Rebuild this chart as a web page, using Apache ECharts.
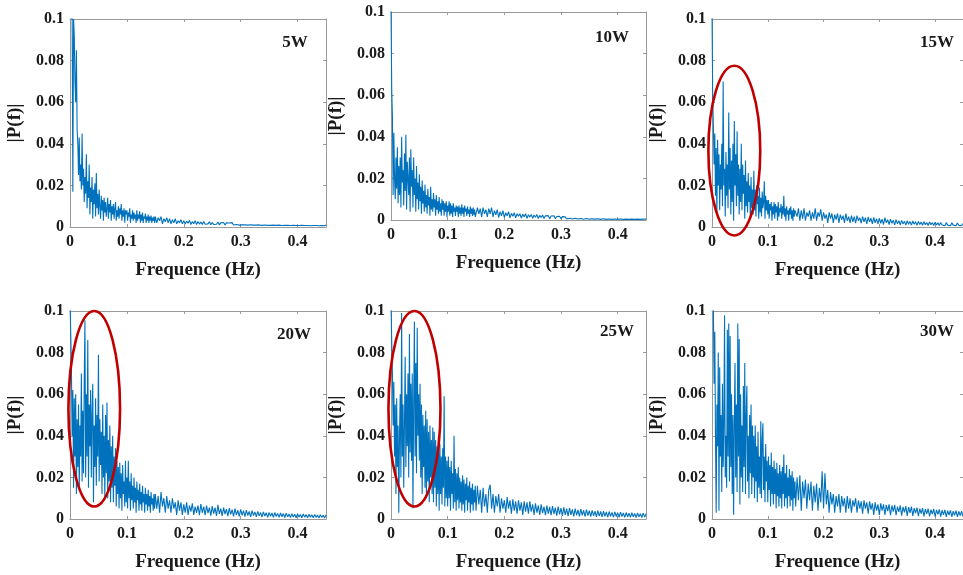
<!DOCTYPE html>
<html><head><meta charset="utf-8">
<script src="https://cdn.jsdelivr.net/npm/echarts@6/dist/echarts.min.js"></script>
<style>html,body{margin:0;padding:0;background:#fff}#c{width:963px;height:575px}</style>
</head><body><div id="c"></div>
<script>
// ---- data ----
const panelLabels = ['5W', '10W', '15W', '20W', '25W', '30W'];
const xAxisName = 'Frequence (Hz)';
const yAxisName = '|P(f)|';
const xMin = 0, xMax = 0.45, xStep = 0.1;
const yMin = 0, yMax = 0.1, yStep = 0.02;
// low band: 0 .. 0.14875 Hz, bins of 0.00125 Hz ; high band: 0.15 .. 0.45 Hz, bins of 0.0025 Hz
const lowStart = 0, lowStep = 0.00125;
const highStart = 0.15, highStep = 0.0025;

const low5W = [
0.13,0.115,0.1,0.104,0.017,0.1,0.092,0.07,0.06,0.085,
0.047,0.04,0.025,0.043,0.022,0.03,0.018,0.045,0.02,0.028,
0.012,0.024,0.016,0.035,0.009,0.022,0.014,0.03,0.006,0.019,
0.012,0.024,0.004,0.018,0.011,0.021,0.005,0.026,0.009,0.016,
0.006,0.018,0.01,0.004,0.015,0.008,0.013,0.003,0.014,0.007,
0.012,0.005,0.009,0.014,0.004,0.011,0.007,0.013,0.003,0.01,
0.006,0.011,0.004,0.009,0.012,0.003,0.008,0.005,0.01,0.004,
0.009,0.006,0.011,0.003,0.008,0.005,0.009,0.002,0.008,0.006,
0.008,0.003,0.007,0.005,0.009,0.002,0.006,0.004,0.008,0.003,
0.007,0.004,0.006,0.002,0.008,0.003,0.006,0.004,0.0075,0.002,
0.006,0.003,0.007,0.002,0.005,0.004,0.0065,0.002,0.005,0.003,
0.006,0.002,0.005,0.003,0.0055,0.002,0.0045,0.003,0.005,0.002];
const high5W = [
0.005,0.002,0.0045,0.003,0.005,0.0015,0.004,0.0025,0.0045,0.002,
0.004,0.0015,0.0035,0.002,0.004,0.0015,0.003,0.002,0.0035,0.0015,
0.003,0.0015,0.0028,0.0018,0.0032,0.0012,0.0026,0.0016,0.003,0.0012,
0.0026,0.0014,0.0024,0.0012,0.0027,0.0013,0.0022,0.0015,0.0025,0.0011,
0.0022,0.0012,0.0021,0.0013,0.0024,0.001,0.002,0.0013,0.0022,0.001,
0.002,0.0011,0.0019,0.0012,0.0021,0.001,0.0018,0.0012,0.002,0.0009,
0.0018,0.001,0.0017,0.0011,0.0019,0.0009,0.0016,0.0011,0.0018,0.0009,
0.0016,0.0009,0.0015,0.001,0.0017,0.0008,0.0015,0.001,0.0016,0.0008,
0.0015,0.0008,0.0014,0.0009,0.0015,0.0008,0.0013,0.0009,0.0014,0.0007,
0.0013,0.0008,0.0012,0.0008,0.0014,0.0007,0.0012,0.0008,0.0013,0.0007,
0.0012,0.0007,0.0011,0.0008,0.0012,0.0007,0.0011,0.0007,0.0012,0.0006,
0.0011,0.0007,0.001,0.0007,0.0011,0.0006,0.001,0.0007,0.0011,0.0006,
0.001];

const low10W = [
0.105,0.063,0.05,0.012,0.042,0.02,0.01,0.03,0.015,0.035,
0.008,0.026,0.012,0.03,0.006,0.04,0.018,0.024,0.007,0.032,
0.014,0.041,0.005,0.028,0.02,0.012,0.03,0.004,0.034,0.016,
0.024,0.006,0.03,0.012,0.02,0.004,0.026,0.01,0.018,0.005,
0.022,0.009,0.016,0.003,0.019,0.008,0.014,0.004,0.017,0.006,
0.012,0.003,0.015,0.007,0.011,0.002,0.016,0.005,0.01,0.004,
0.013,0.006,0.01,0.002,0.012,0.005,0.009,0.003,0.011,0.004,
0.008,0.002,0.01,0.005,0.009,0.002,0.008,0.004,0.009,0.0015,
0.007,0.004,0.009,0.002,0.008,0.003,0.007,0.0015,0.008,0.004,
0.006,0.002,0.007,0.004,0.0065,0.0015,0.007,0.003,0.006,0.002,
0.0075,0.003,0.006,0.0015,0.007,0.004,0.0055,0.002,0.0065,0.003,
0.005,0.0015,0.0065,0.003,0.0055,0.002,0.006,0.0025,0.005,0.0015];
const high10W = [
0.002,0.006,0.003,0.0055,0.0015,0.006,0.003,0.005,0.0015,0.0055,
0.003,0.006,0.0015,0.0045,0.0025,0.005,0.0012,0.004,0.002,0.0045,
0.0012,0.0035,0.002,0.004,0.001,0.0032,0.0018,0.0035,0.001,0.003,
0.0018,0.003,0.0009,0.0028,0.0015,0.003,0.0008,0.0025,0.0014,0.0027,
0.0008,0.0024,0.0013,0.0026,0.0007,0.0022,0.0012,0.0024,0.0007,0.002,
0.0012,0.0021,0.0006,0.0019,0.0011,0.002,0.0006,0.0017,0.001,0.0018,
0.0006,0.0016,0.0009,0.0015,0.0005,0.0014,0.0008,0.0015,0.0005,0.0013,
0.0008,0.0013,0.0005,0.0012,0.0007,0.0012,0.0004,0.0011,0.0007,0.0011,
0.0004,0.001,0.0006,0.001,0.0004,0.0009,0.0006,0.001,0.0003,0.0009,
0.0006,0.0009,0.0003,0.0008,0.0005,0.0009,0.0003,0.0008,0.0005,0.0008,
0.0003,0.0007,0.0005,0.0008,0.0003,0.0007,0.0004,0.0007,0.0003,0.0006,
0.0004,0.0007,0.0003,0.0006,0.0004,0.0006,0.0003,0.0006,0.0004,0.0005,
0.0004];

const low15W = [
0.105,0.062,0.048,0.03,0.045,0.015,0.038,0.006,0.042,0.02,
0.035,0.008,0.03,0.018,0.04,0.01,0.07,0.02,0.028,0.005,
0.036,0.015,0.03,0.009,0.055,0.018,0.038,0.006,0.032,0.012,
0.04,0.003,0.051,0.02,0.035,0.01,0.046,0.015,0.03,0.006,
0.028,0.012,0.04,0.008,0.03,0.016,0.025,0.004,0.032,0.01,
0.022,0.007,0.026,0.012,0.02,0.004,0.024,0.009,0.018,0.006,
0.027,0.008,0.018,0.005,0.02,0.011,0.015,0.004,0.019,0.007,
0.014,0.005,0.017,0.009,0.012,0.022,0.004,0.015,0.008,0.013,
0.006,0.013,0.004,0.011,0.008,0.012,0.003,0.01,0.006,0.012,
0.004,0.011,0.007,0.01,0.003,0.012,0.005,0.009,0.007,0.011,
0.004,0.01,0.006,0.015,0.005,0.009,0.003,0.01,0.006,0.008,
0.003,0.009,0.006,0.01,0.004,0.008,0.003,0.009,0.005,0.008];
const high15W = [
0.008,0.005,0.009,0.003,0.008,0.004,0.009,0.003,0.007,0.005,
0.008,0.003,0.007,0.004,0.009,0.003,0.007,0.005,0.0085,0.003,
0.007,0.004,0.006,0.002,0.007,0.004,0.0065,0.002,0.006,0.0035,
0.0065,0.002,0.006,0.0035,0.0055,0.002,0.0065,0.003,0.005,0.002,
0.0055,0.0025,0.005,0.0018,0.0055,0.003,0.0045,0.0018,0.005,0.0025,
0.0045,0.0015,0.0048,0.0025,0.0042,0.0015,0.0046,0.002,0.004,0.0015,
0.0042,0.0018,0.0038,0.0012,0.0045,0.002,0.0035,0.0012,0.0038,0.0018,
0.0032,0.001,0.0035,0.0015,0.003,0.001,0.0032,0.0015,0.0028,0.0009,
0.003,0.0013,0.0027,0.0009,0.0029,0.0013,0.0025,0.0008,0.0027,0.0012,
0.0024,0.0008,0.0026,0.0011,0.0022,0.0007,0.0024,0.0011,0.0021,0.0007,
0.0023,0.001,0.002,0.0007,0.0022,0.001,0.0019,0.0006,0.0021,0.0009,
0.0018,0.0006,0.002,0.0009,0.0017,0.0006,0.0019,0.0008,0.0016,0.0006,
0.0017];

const low20W = [
0.105,0.09,0.072,0.04,0.062,0.015,0.058,0.03,0.06,0.012,
0.048,0.025,0.055,0.014,0.045,0.03,0.07,0.018,0.052,0.022,
0.065,0.0955,0.02,0.06,0.03,0.086,0.015,0.055,0.035,0.062,
0.02,0.05,0.065,0.008,0.045,0.025,0.058,0.016,0.05,0.03,
0.079,0.018,0.048,0.026,0.042,0.012,0.055,0.02,0.04,0.01,
0.05,0.022,0.056,0.01,0.038,0.018,0.045,0.008,0.035,0.015,
0.04,0.008,0.03,0.016,0.034,0.006,0.028,0.012,0.025,0.005,
0.027,0.01,0.022,0.004,0.026,0.012,0.018,0.006,0.028,0.008,
0.02,0.005,0.028,0.01,0.018,0.004,0.022,0.009,0.016,0.005,
0.02,0.008,0.015,0.003,0.018,0.009,0.014,0.004,0.017,0.007,
0.013,0.004,0.016,0.008,0.012,0.003,0.015,0.007,0.012,0.004,
0.014,0.006,0.011,0.003,0.013,0.007,0.01,0.004,0.012,0.005];
const high20W = [
0.012,0.005,0.011,0.003,0.013,0.006,0.01,0.003,0.011,0.005,
0.009,0.003,0.01,0.005,0.008,0.002,0.009,0.004,0.008,0.002,
0.007,0.003,0.008,0.002,0.0065,0.0035,0.0075,0.002,0.006,0.003,
0.0065,0.0018,0.0072,0.003,0.006,0.0018,0.0065,0.0028,0.0055,0.0016,
0.0062,0.0026,0.0055,0.0015,0.0068,0.0025,0.005,0.0015,0.0055,0.0024,
0.0048,0.0014,0.0052,0.0022,0.0045,0.0013,0.005,0.002,0.0042,0.0012,
0.0046,0.0018,0.004,0.0011,0.0043,0.0017,0.0036,0.001,0.004,0.0016,
0.0034,0.001,0.0037,0.0015,0.0032,0.0009,0.0034,0.0014,0.003,0.0008,
0.0032,0.0013,0.0029,0.0008,0.0031,0.0012,0.0027,0.0008,0.0029,0.0011,
0.0026,0.0007,0.0028,0.001,0.0024,0.0007,0.0026,0.001,0.0023,0.0006,
0.0025,0.0009,0.0022,0.0006,0.0024,0.0009,0.0021,0.0006,0.0023,0.0008,
0.002,0.0006,0.0022,0.0008,0.0019,0.0005,0.0021,0.0008,0.0018,0.0005,
0.0019];

const low25W = [
0.105,0.085,0.07,0.045,0.066,0.03,0.055,0.012,0.058,0.025,
0.045,0.003,0.04,0.06,0.02,0.099,0.03,0.055,0.015,0.045,
0.078,0.025,0.06,0.035,0.07,0.02,0.089,0.032,0.065,0.028,
0.07,0.005,0.055,0.095,0.03,0.075,0.022,0.092,0.04,0.06,
0.028,0.065,0.02,0.055,0.012,0.05,0.025,0.045,0.015,0.052,
0.01,0.048,0.018,0.042,0.008,0.045,0.02,0.038,0.012,0.044,
0.008,0.042,0.015,0.038,0.006,0.035,0.012,0.04,0.004,0.036,
0.012,0.03,0.007,0.034,0.015,0.059,0.006,0.03,0.01,0.028,
0.006,0.03,0.01,0.025,0.004,0.028,0.012,0.022,0.005,0.04,
0.008,0.024,0.004,0.022,0.009,0.025,0.005,0.02,0.008,0.018,
0.004,0.021,0.007,0.019,0.003,0.017,0.009,0.02,0.004,0.016,
0.008,0.018,0.003,0.015,0.007,0.017,0.004,0.014,0.008,0.016];
const high25W = [
0.004,0.016,0.007,0.014,0.003,0.015,0.006,0.012,0.003,0.014,
0.0165,0.005,0.012,0.003,0.011,0.006,0.012,0.003,0.01,0.005,
0.009,0.003,0.0105,0.005,0.009,0.0025,0.0095,0.004,0.0085,0.0025,
0.009,0.004,0.008,0.002,0.0085,0.0035,0.008,0.0025,0.0085,0.0035,
0.007,0.002,0.0075,0.003,0.0065,0.002,0.007,0.0028,0.006,0.0018,
0.0065,0.0026,0.0058,0.0018,0.0062,0.0024,0.0055,0.0016,0.006,0.0022,
0.0052,0.0015,0.0056,0.002,0.005,0.0014,0.0053,0.002,0.0046,0.0013,
0.005,0.0018,0.0044,0.0012,0.0047,0.0017,0.0042,0.0012,0.0045,0.0016,
0.004,0.0011,0.0042,0.0015,0.0038,0.001,0.004,0.0014,0.0036,0.001,
0.0038,0.0013,0.0034,0.0009,0.0036,0.0013,0.0032,0.0009,0.0034,0.0012,
0.003,0.0008,0.0033,0.0012,0.0029,0.0008,0.0031,0.0011,0.0028,0.0008,
0.003,0.001,0.0027,0.0007,0.0029,0.001,0.0026,0.0007,0.0028,0.0009,
0.0025];

const low30W = [
0.12,0.11,0.1,0.065,0.09,0.04,0.003,0.055,0.035,0.08,
0.004,0.073,0.03,0.05,0.013,0.065,0.025,0.045,0.098,0.02,
0.04,0.015,0.091,0.03,0.094,0.018,0.088,0.025,0.06,0.012,
0.05,0.002,0.045,0.075,0.02,0.055,0.013,0.094,0.03,0.0865,
0.007,0.06,0.02,0.045,0.013,0.064,0.025,0.075,0.012,0.05,
0.064,0.018,0.04,0.01,0.05,0.022,0.055,0.012,0.045,0.02,
0.04,0.01,0.045,0.018,0.035,0.008,0.042,0.015,0.03,0.012,
0.047,0.01,0.038,0.046,0.014,0.03,0.008,0.036,0.018,0.028,
0.008,0.03,0.014,0.026,0.006,0.032,0.012,0.025,0.007,0.028,
0.012,0.024,0.005,0.027,0.011,0.022,0.006,0.026,0.01,0.023,
0.005,0.025,0.012,0.031,0.006,0.022,0.01,0.026,0.005,0.02,
0.011,0.024,0.006,0.021,0.009,0.023,0.004,0.02,0.01,0.018];
const high30W = [
0.006,0.02,0.009,0.021,0.004,0.018,0.01,0.019,0.005,0.017,
0.009,0.018,0.004,0.016,0.008,0.017,0.004,0.015,0.008,0.023,
0.005,0.022,0.007,0.014,0.003,0.013,0.007,0.012,0.003,0.011,
0.006,0.012,0.003,0.011,0.006,0.01,0.003,0.011,0.005,0.01,
0.003,0.009,0.006,0.01,0.003,0.009,0.005,0.0085,0.0025,0.009,
0.005,0.008,0.0025,0.0085,0.0045,0.0075,0.002,0.008,0.004,0.007,
0.002,0.0075,0.004,0.007,0.002,0.0068,0.0038,0.007,0.0018,0.0065,
0.0035,0.0068,0.0018,0.006,0.0034,0.0065,0.0016,0.0058,0.0032,0.0062,
0.0015,0.0057,0.003,0.006,0.0015,0.0052,0.0028,0.0055,0.0014,0.005,
0.0026,0.0052,0.0013,0.0048,0.0025,0.005,0.0012,0.0045,0.0024,0.0048,
0.0011,0.0044,0.0022,0.0046,0.0011,0.0042,0.002,0.0044,0.001,0.004,
0.0019,0.0042,0.001,0.0038,0.0018,0.004,0.001,0.0036,0.0017,0.0038,
0.0012];

// highlighted regions (data coordinates): panel index, centre and semi-axes
const ellipsePanels = [2, 3, 4];
const ellipseCx = [0.040, 0.0426, 0.0414];
const ellipseCy = [0.0367, 0.053, 0.053];
const ellipseRx = [0.0465, 0.0454, 0.0459];
const ellipseRy = [0.0408, 0.047, 0.047];

// ---- layout / style ----
const lowBands = [low5W, low10W, low15W, low20W, low25W, low30W];
const highBands = [high5W, high10W, high15W, high20W, high25W, high30W];
const grids = [
  {left: 70,  top: 19,  width: 256, height: 208},
  {left: 391, top: 12,  width: 255, height: 208},
  {left: 712, top: 19,  width: 258, height: 208},
  {left: 70,  top: 311, width: 256, height: 208},
  {left: 391, top: 311, width: 255, height: 208},
  {left: 712, top: 311, width: 258, height: 208}
];
const labelPos = [[295, 43], [612, 38], [937, 43], [294, 335], [617, 332], [937, 332]];
const FONT = '"Liberation Serif", "DejaVu Serif", serif';
const TXT = '#1a1a1a';
const FRAME = '#9a9a9a';
const LINE = '#0072BD';

const chart = echarts.init(document.getElementById('c'), null, {renderer: 'canvas'});

const xAxes = [], yAxes = [], series = [];
grids.forEach((g, k) => {
  const common = {
    gridIndex: k, type: 'value',
    axisLine: {show: true, onZero: false, lineStyle: {color: FRAME, width: 1}},
    axisTick: {show: true, inside: true, length: 3, lineStyle: {color: FRAME}},
    splitLine: {show: false}
  };
  xAxes.push(Object.assign({}, common, {
    position: 'bottom', min: xMin, max: xMax, interval: xStep,
    axisLabel: {showMaxLabel: false, color: TXT, fontFamily: FONT, fontWeight: 'bold', fontSize: 16, margin: 7},
    name: xAxisName, nameLocation: 'middle', nameGap: 34,
    nameTextStyle: {color: TXT, fontFamily: FONT, fontWeight: 'bold', fontSize: 19}
  }));
  xAxes.push(Object.assign({}, common, {
    position: 'top', min: xMin, max: xMax, interval: xStep,
    axisLabel: {show: false}
  }));
  yAxes.push(Object.assign({}, common, {
    position: 'left', min: yMin, max: yMax, interval: yStep,
    axisLabel: {color: TXT, fontFamily: FONT, fontWeight: 'bold', fontSize: 16, margin: 6},
    name: yAxisName, nameLocation: 'middle', nameGap: 45, nameRotate: 90,
    nameTextStyle: {color: TXT, fontFamily: FONT, fontWeight: 'bold', fontSize: 19}
  }));
  yAxes.push(Object.assign({}, common, {
    position: 'right', min: yMin, max: yMax, interval: yStep,
    axisLabel: {show: false}
  }));
  const pts = lowBands[k].map((v, i) => [+(lowStart + i * lowStep).toFixed(5), v])
    .concat(highBands[k].map((v, i) => [+(highStart + i * highStep).toFixed(5), v]));
  series.push({
    type: 'line', xAxisIndex: 2 * k, yAxisIndex: 2 * k,
    data: pts, showSymbol: false, symbol: 'none', clip: true, sampling: null,
    lineStyle: {color: LINE, width: 1.1}, animation: false
  });
});

chart.setOption({
  animation: false,
  backgroundColor: '#fff',
  grid: grids.map(g => Object.assign({containLabel: false, show: false}, g)),
  xAxis: xAxes, yAxis: yAxes, series: series
});

// panel labels + highlight ellipses (positions from data coordinates)
const extra = [];
panelLabels.forEach((t, k) => {
  extra.push({
    type: 'text', x: labelPos[k][0], y: labelPos[k][1], z: 10,
    style: {text: t, fill: TXT, font: 'bold 17px ' + FONT, align: 'center', verticalAlign: 'middle'}
  });
});
ellipsePanels.forEach((k, j) => {
  const c = chart.convertToPixel({gridIndex: k}, [ellipseCx[j], ellipseCy[j]]);
  const ex = chart.convertToPixel({gridIndex: k}, [ellipseCx[j] + ellipseRx[j], ellipseCy[j]]);
  const ey = chart.convertToPixel({gridIndex: k}, [ellipseCx[j], ellipseCy[j] + ellipseRy[j]]);
  const rx = Math.abs(ex[0] - c[0]), ry = Math.abs(c[1] - ey[1]);
  extra.push({
    type: 'ellipse', z: 20,
    shape: {cx: c[0], cy: c[1], rx: rx, ry: ry},
    style: {fill: null, stroke: '#c00000', lineWidth: 2.6}
  });
});
chart.setOption({graphic: {elements: extra}});
</script>
</body></html>
